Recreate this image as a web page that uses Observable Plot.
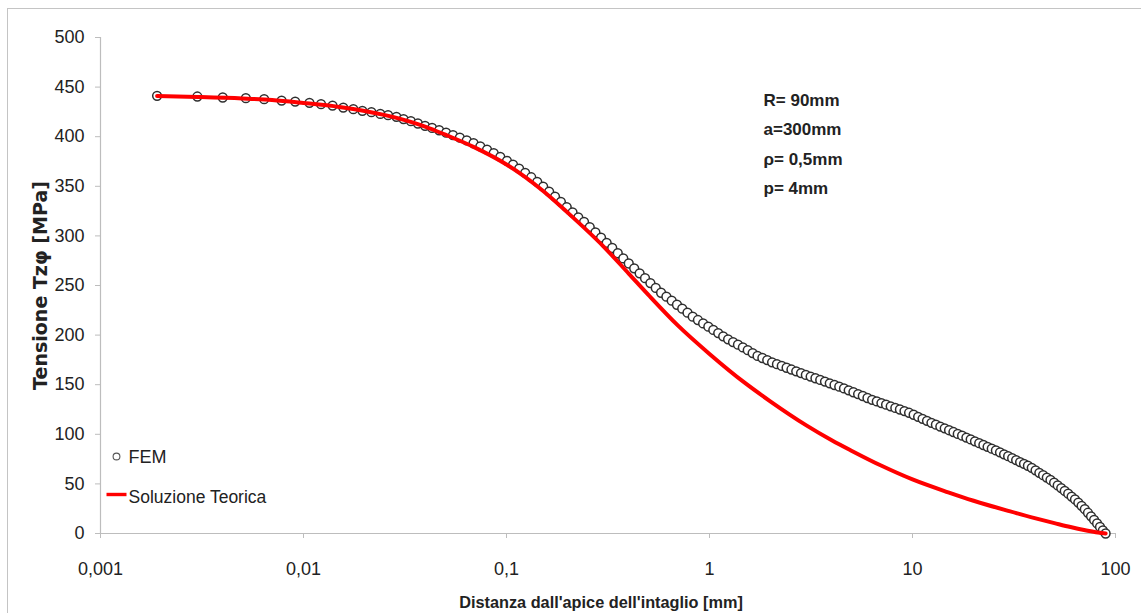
<!DOCTYPE html>
<html>
<head>
<meta charset="utf-8">
<script src="https://cdn.jsdelivr.net/npm/d3@7"></script>
<script src="https://cdn.jsdelivr.net/npm/@observablehq/plot@0.6"></script>
<style>
  html, body { margin: 0; padding: 0; background: #fff; }
  #wrap { position: relative; width: 1141px; height: 613px; overflow: hidden; }
  #border { position: absolute; left: 7px; top: 8px; width: 1200px; height: 700px; border: 1px solid #c4c4c4; box-sizing: border-box; }
  #chart { position: absolute; left: 0; top: 0; }
</style>
</head>
<body>
<div id="wrap"><div id="border"></div><div id="chart"></div></div>
<script>
// ---- Data ----
const xTicks = [0.001, 0.01, 0.1, 1, 10, 100];
const xTickLabels = ["0,001", "0,01", "0,1", "1", "10", "100"];
const yTicks = [0, 50, 100, 150, 200, 250, 300, 350, 400, 450, 500];

const xLabel = "Distanza dall'apice dell'intaglio [mm]";
const yLabel = "Tensione Tzφ [MPa]";
const params = ["R= 90mm", "a=300mm", "ρ= 0,5mm", "p= 4mm"];
const seriesNames = ["FEM", "Soluzione Teorica"];

// FEM: distance [mm]
const femX = [
  0.0019, 0.0030, 0.0040, 0.0052, 0.0064, 0.0078, 0.0091, 0.0107, 0.0122, 0.0139, 0.0157, 0.0176, 0.0195, 0.0216, 0.0239, 0.0261, 0.0287,
  0.0311, 0.0338, 0.0366, 0.0397, 0.0430, 0.0466, 0.0504, 0.0545, 0.0589, 0.0637, 0.0688, 0.0743, 0.0802, 0.0865, 0.0932, 0.1005,
  0.1077, 0.1154, 0.1236, 0.1324, 0.1417, 0.1516, 0.1622, 0.1734, 0.1853, 0.198, 0.2115, 0.2258, 0.241, 0.2571, 0.2742, 0.2923, 0.3115, 0.3318,
  0.3533, 0.3761, 0.4002, 0.4257, 0.4527, 0.4813, 0.5115, 0.5435, 0.5774, 0.6133, 0.6513, 0.6915, 0.734, 0.779, 0.8266, 0.877, 0.9303, 0.9867,
  1.044, 1.104, 1.168, 1.235, 1.306, 1.381, 1.46, 1.543, 1.631, 1.724, 1.822, 1.925, 2.034, 2.149, 2.27, 2.398, 2.533, 2.675, 2.825, 2.983,
  3.15, 3.326, 3.511, 3.706, 3.912, 4.129, 4.357, 4.597, 4.85, 5.116, 5.396, 5.691, 6.001, 6.327, 6.67, 7.031, 7.41, 7.81, 8.23, 8.67, 9.13, 9.62, 10.13,
  10.66, 11.21, 11.79, 12.4, 13.04, 13.71, 14.41, 15.14, 15.91, 16.71, 17.55, 18.43, 19.35, 20.31, 21.31, 22.35, 23.44, 24.57, 25.75, 26.98,
  28.26, 29.59, 30.97, 32.4, 33.89, 35.43, 37.03, 38.68, 40.39, 42.16, 43.99, 45.88, 47.83, 49.84, 51.91, 54.04, 56.23, 58.48, 60.79, 63.16,
  65.59, 68.07, 70.6, 73.18, 75.8, 78.46, 81.16, 83.89, 86.65, 89.4
];
// FEM: stress [MPa]
const femY = [
  441.2, 440.5, 439.5, 438.8, 437.8, 436.4, 435.4, 434.1, 432.8, 431.4, 429.4, 427.7, 426.1, 424.7, 423.0, 421.7, 420.0,
  417.8, 415.6, 413.3, 411.0, 408.8, 406.5, 404.1, 401.6, 399.0, 396.3, 393.4, 390.3, 387.0, 383.4, 379.6, 375.6,
  371.8, 367.8, 363.5, 359.1, 354.5, 349.7, 344.7, 339.5, 334.3, 329.1, 323.8, 318.6, 314.1, 308.8, 303.5, 298.2, 292.9, 287.8,
  282.5, 277.3, 272.2, 267.3, 262.3, 257.4, 252.4, 247.6, 242.7, 238.7, 234.7, 230.6, 226.6, 222.6, 218.6, 215.2, 211.8, 208.5,
  205.2, 202.0, 198.8, 195.7, 193.0, 190.3, 187.6, 184.8, 181.9, 179.0, 176.9, 174.8, 172.6, 170.7, 168.9, 167.1, 165.3, 163.5, 161.7, 159.9,
  158.2, 156.5, 154.8, 153.1, 151.4, 149.7, 148.0, 146.2, 144.3, 142.4, 140.5, 138.6, 136.6, 134.8, 133.1, 131.5, 129.9, 128.2, 126.6, 125.0, 123.4, 121.7, 119.7,
  117.6, 115.6, 113.6, 111.6, 109.7, 107.8, 106.0, 104.1, 102.3, 100.4, 98.6, 96.7, 94.8, 92.9, 91.1, 89.2, 87.4, 85.5, 83.7, 81.8,
  79.8, 77.9, 75.9, 74.0, 72.0, 70.2, 68.3, 66.2, 63.7, 61.2, 58.8, 56.4, 54.0, 51.2, 48.5, 45.8, 42.9, 40.1, 37.2, 34.4,
  31.2, 27.9, 24.5, 20.9, 17.3, 13.7, 10.1, 6.6, 3.1, 0
];

// Soluzione Teorica
const teoX = [0.0019, 0.003, 0.005, 0.007, 0.01, 0.015, 0.02, 0.03, 0.04, 0.05, 0.07, 0.1, 0.15, 0.2, 0.3, 0.4, 0.5, 0.7,
  1, 1.5, 2, 3, 4, 5, 7, 10, 15, 20, 30, 40, 50, 60, 70, 80, 89.4];
const teoY = [441, 440, 438.5, 437, 434, 430, 426, 418, 410, 402, 389, 372, 346, 323.5, 289.5, 262, 240.5, 209.5,
  181, 151.5, 133, 109, 94, 83.5, 68.5, 54.5, 41.5, 33, 22.5, 15.5, 10.5, 6.5, 3.5, 1.3, 0];

// ---- Build tables ----
const fem = femX.slice(0, Math.min(femX.length, femY.length)).map((x, i) => ({x, y: femY[i]}));
const teo = teoX.map((x, i) => ({x, y: teoY[i]}));

const FONT = "'Liberation Sans Narrow', 'Liberation Sans', Arial, sans-serif";
const INK = "#222";
const AXIS = "#bdbdbd";
const RED = "#ff0000";

const lineSymbol = { draw(ctx) { ctx.rect(-10, -1.7, 20, 3.4); } };
const xFmt = (d) => {
  const i = xTicks.findIndex((t) => Math.abs(Math.log10(t) - Math.log10(d)) < 1e-6);
  return i >= 0 ? xTickLabels[i] : "";
};

const chart = Plot.plot({
  width: 1141,
  height: 613,
  marginLeft: 100,
  marginRight: 26,
  marginTop: 37,
  marginBottom: 80,
  style: { fontFamily: FONT, fontSize: "18px", color: INK, background: "transparent" },
  x: { type: "log", domain: [0.001, 100] },
  y: { domain: [0, 500] },
  marks: [
    Plot.axisY({ ticks: yTicks, tickSize: 5, tickPadding: 11, label: null, stroke: AXIS, fill: INK, fontSize: 18 }),
    Plot.axisX({ ticks: xTicks, tickFormat: xFmt, tickSize: 5, tickPadding: 24, label: null, stroke: AXIS, fill: INK, fontSize: 18 }),
    Plot.ruleX([0.001], { stroke: AXIS, strokeWidth: 1.2 }),
    Plot.ruleY([0], { stroke: AXIS, strokeWidth: 1.2 }),
    Plot.dot(fem, { x: "x", y: "y", r: 4.4, fill: "white", stroke: "#2e2e2e", strokeWidth: 1.5 }),
    Plot.line(teo, { x: "x", y: "y", stroke: RED, strokeWidth: 4, curve: "monotone-x" }),
    // parameter box
    Plot.text([params.join("\n")], { frameAnchor: "top-left", dx: 663, dy: 47, textAnchor: "start", lineAnchor: "top",
      lineHeight: 1.74, fontWeight: "bold", fontSize: 17, fill: INK }),
    // legend
    Plot.dot([0], { frameAnchor: "bottom-left", dx: 16, dy: -77, r: 3.4, fill: "white", stroke: "#555", strokeWidth: 1.1 }),
    Plot.dot([0], { frameAnchor: "bottom-left", dx: 16, dy: -39, symbol: lineSymbol, fill: RED, stroke: "none" }),
    Plot.text([seriesNames[0]], { frameAnchor: "bottom-left", dx: 28, dy: -76, textAnchor: "start", lineAnchor: "middle", fontSize: 18, fill: INK }),
    Plot.text([seriesNames[1]], { frameAnchor: "bottom-left", dx: 28, dy: -36, textAnchor: "start", lineAnchor: "middle", fontSize: 17.5, fill: INK }),
    // axis titles
    Plot.text([yLabel], { frameAnchor: "left", dx: -60, rotate: -90, textAnchor: "middle", lineAnchor: "middle",
      fontFamily: "'DejaVu Sans', Verdana, sans-serif", fontWeight: "bold", fontSize: 19, fill: INK }),
    Plot.text([xLabel], { frameAnchor: "bottom", dx: -7, dy: 69, textAnchor: "middle", lineAnchor: "middle",
      fontWeight: "bold", fontSize: 16.3, fill: INK })
  ]
});
document.getElementById("chart").appendChild(chart);
</script>
</body>
</html>
